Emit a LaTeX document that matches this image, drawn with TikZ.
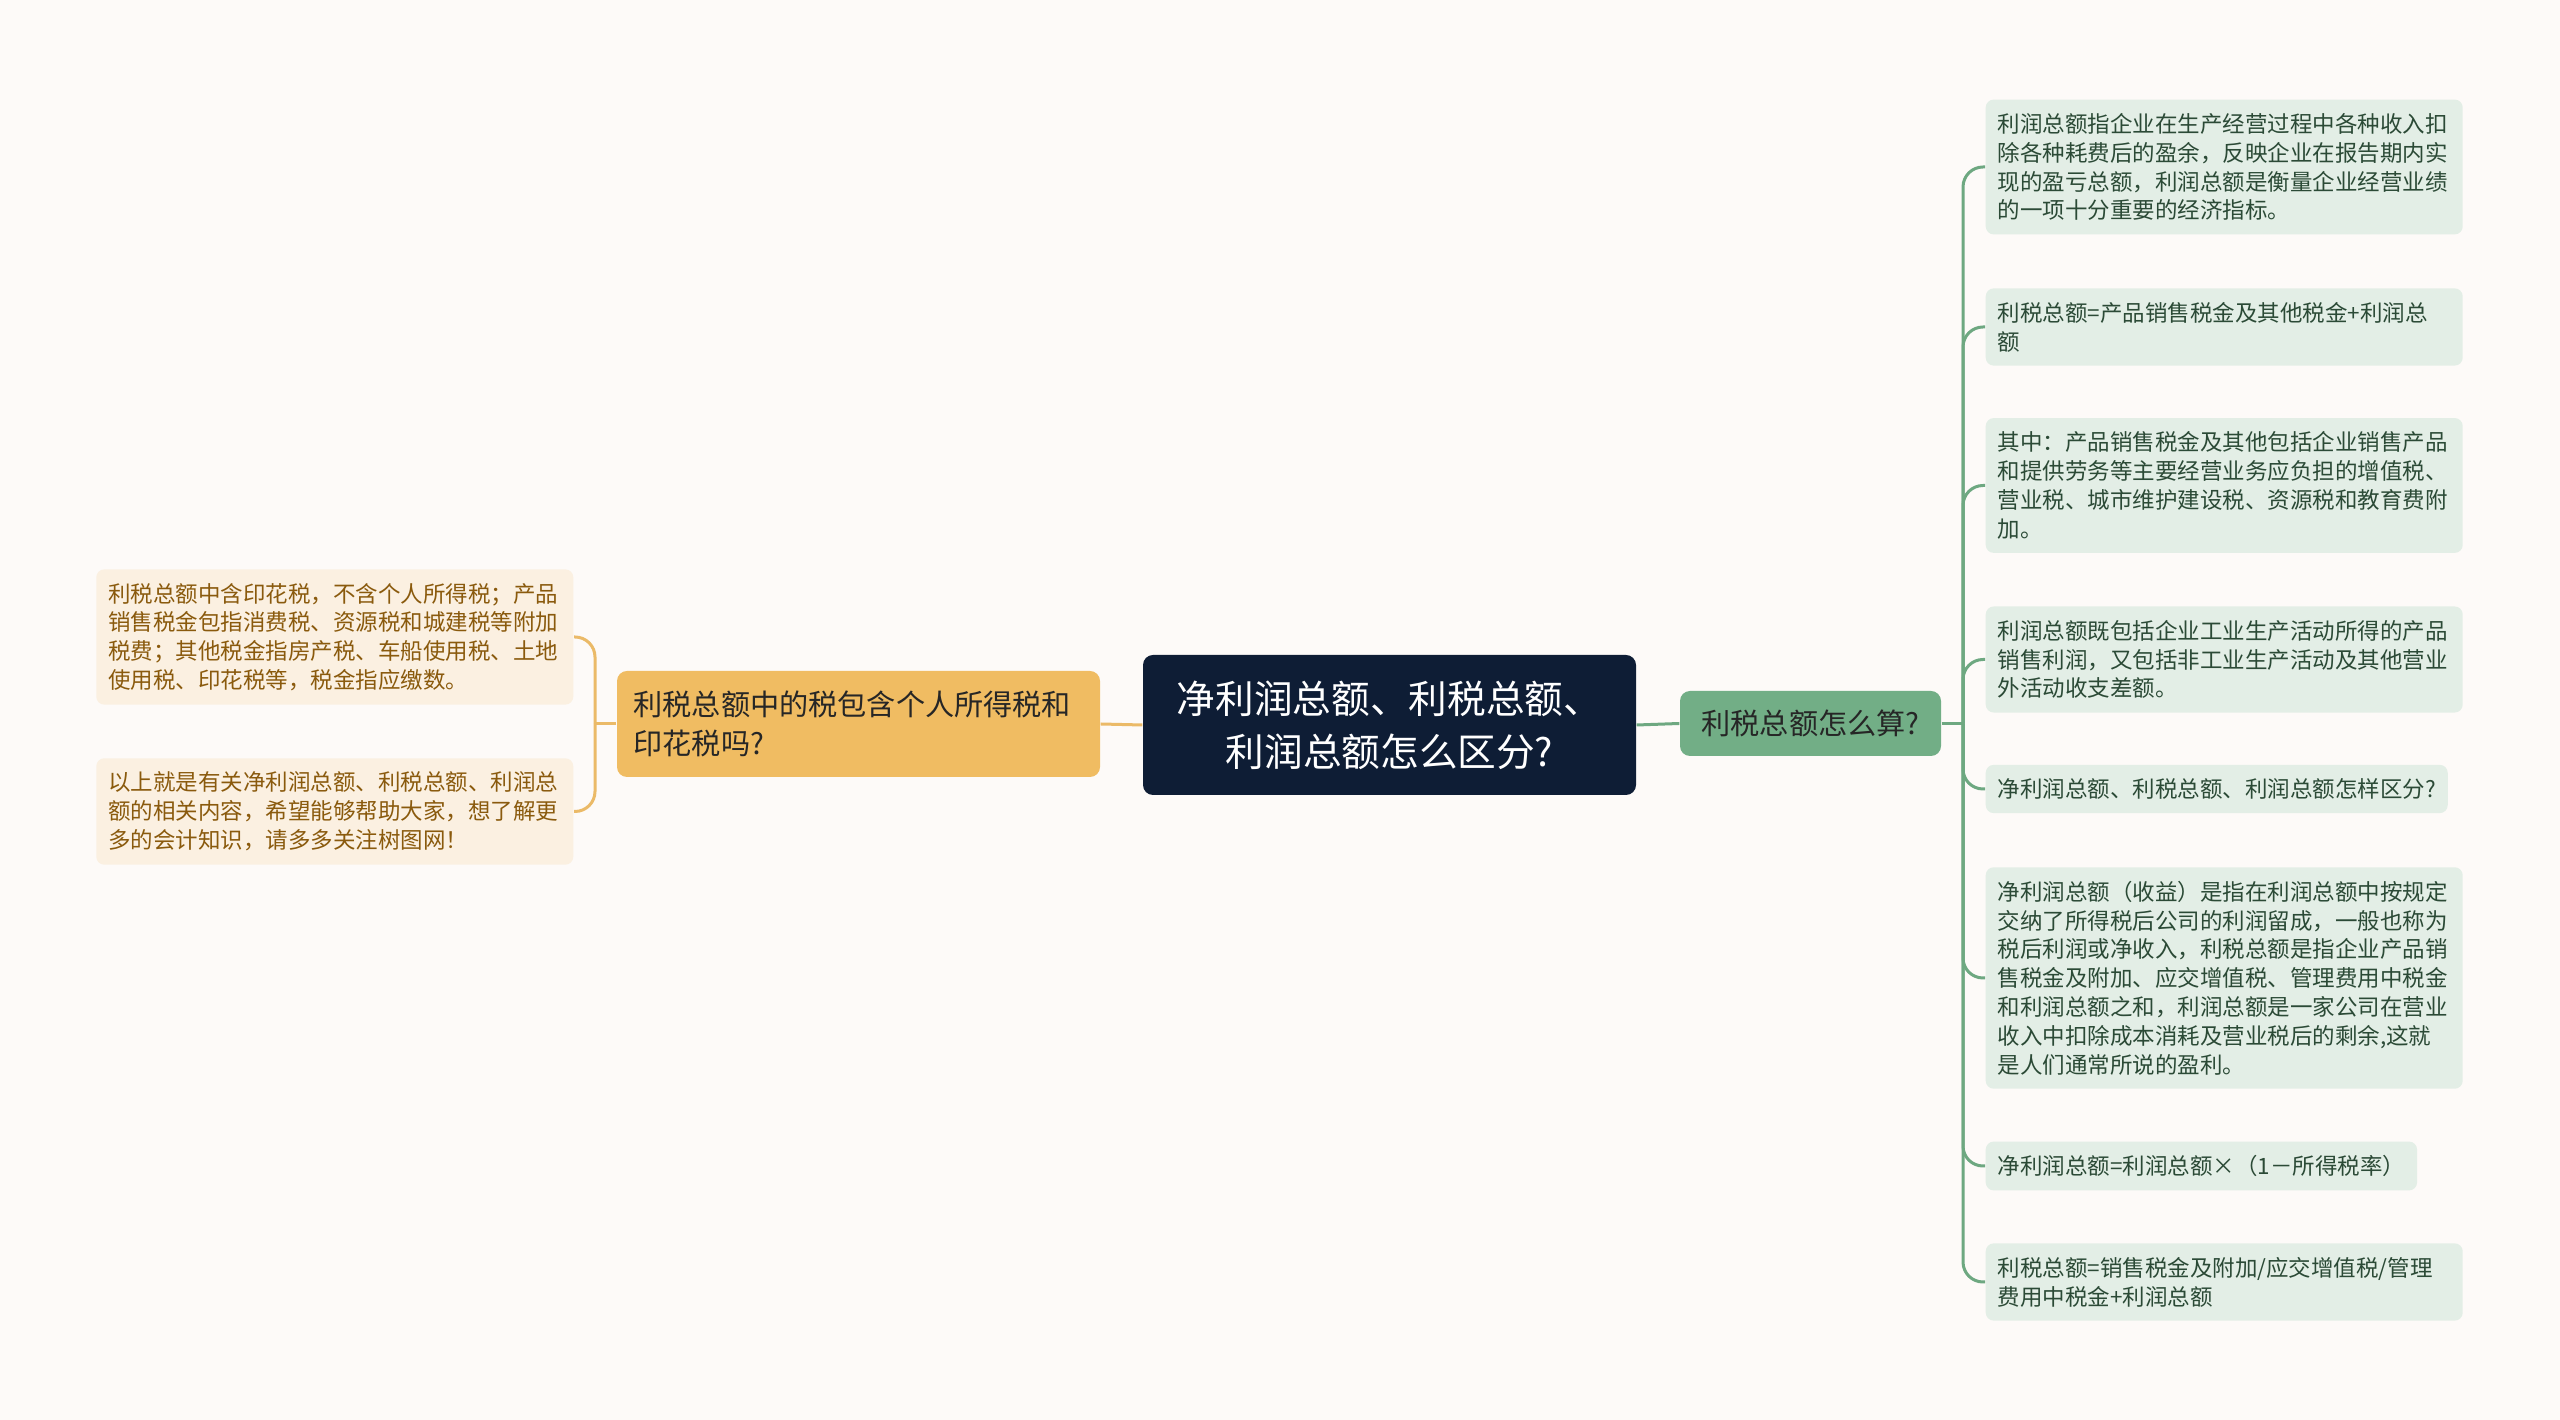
\documentclass[tikz,border=0pt]{standalone}
\usepackage{fontspec}
\newfontfamily\cjk{Noto Sans CJK SC}
\XeTeXlinebreaklocale "zh"
\definecolor{bgcol}{HTML}{FDFAF8}
\definecolor{navy}{HTML}{0E1D35}
\definecolor{gold}{HTML}{F0BC62}
\definecolor{goldline}{HTML}{EBBA68}
\definecolor{sage}{HTML}{72AE86}
\definecolor{sageline}{HTML}{6EA881}
\definecolor{sagefill}{HTML}{E3EEE6}
\definecolor{sagetext}{HTML}{2B4A36}
\definecolor{creamfill}{HTML}{FBF0E1}
\definecolor{creamtext}{HTML}{8A5A0D}
\begin{document}
\begin{tikzpicture}[
  rootbox/.style={fill=navy,text=white,rounded corners=0.1cm,align=center,
    minimum width=4.93cm,minimum height=1.40cm,font=\cjk\fontsize{11}{15}\selectfont},
  leftbox/.style={fill=gold,text=black!85,rounded corners=0.1cm,align=left,text width=4.5cm,
    inner xsep=0.165cm,minimum height=1.06cm,font=\cjk\fontsize{8.3}{11.1}\selectfont},
  rightbox/.style={fill=sage,text=black!85,rounded corners=0.1cm,
    minimum width=2.61cm,minimum height=0.65cm,font=\cjk\fontsize{8.3}{10}\selectfont},
  leaf/.style={rounded corners=0.08cm,align=left,inner xsep=0.12cm,inner ysep=3.9pt,
    font=\cjk\fontsize{6.4}{8.2}\selectfont},
  wide/.style={text width=4.53cm},
  gleaf/.style={leaf,fill=sagefill,text=sagetext,anchor=west},
  oleaf/.style={leaf,fill=creamfill,text=creamtext,anchor=east,wide},
  gline/.style={draw=sageline,line width=0.03cm},
  oline/.style={draw=goldline,line width=0.03cm}]
\fill[bgcol] (0,0) rectangle (25.6,14.2);
\useasboundingbox (0,0) rectangle (25.6,14.2);
% main nodes
\node[rootbox] (root) at (13.895,6.95) {净利润总额、利税总额、\\利润总额怎么区分?};
\node[leftbox] (tax) at (8.585,6.96) {利税总额中的税包含个人所得税和\\印花税吗?};
\node[rightbox] (calc) at (18.105,6.965) {利税总额怎么算?};
% left leaves
\node[oleaf] (t1) at (5.74,7.83) {利税总额中含印花税，不含个人所得税；产品\\销售税金包指消费税、资源税和城建税等附加\\税费；其他税金指房产税、车船使用税、土地\\使用税、印花税等，税金指应缴数。};
\node[oleaf] (t2) at (5.74,6.085) {以上就是有关净利润总额、利税总额、利润总\\额的相关内容，希望能够帮助大家，想了解更\\多的会计知识，请多多关注树图网！};
% right leaves
\node[gleaf,wide] (c1) at (19.85,12.53) {利润总额指企业在生产经营过程中各种收入扣\\除各种耗费后的盈余，反映企业在报告期内实\\现的盈亏总额，利润总额是衡量企业经营业绩\\的一项十分重要的经济指标。};
\node[gleaf,wide] (c2) at (19.85,10.93) {利税总额=产品销售税金及其他税金+利润总\\额};
\node[gleaf,wide] (c3) at (19.85,9.345) {其中：产品销售税金及其他包括企业销售产品\\和提供劳务等主要经营业务应负担的增值税、\\营业税、城市维护建设税、资源税和教育费附\\加。};
\node[gleaf,wide] (c4) at (19.85,7.605) {利润总额既包括企业工业生产活动所得的产品\\销售利润，又包括非工业生产活动及其他营业\\外活动收支差额。};
\node[gleaf] (c5) at (19.85,6.31) {净利润总额、利税总额、利润总额怎样区分?};
\node[gleaf,wide] (c6) at (19.85,4.42) {净利润总额（收益）是指在利润总额中按规定\\交纳了所得税后公司的利润留成，一般也称为\\税后利润或净收入，利税总额是指企业产品销\\售税金及附加、应交增值税、管理费用中税金\\和利润总额之和，利润总额是一家公司在营业\\收入中扣除成本消耗及营业税后的剩余,这就\\是人们通常所说的盈利。};
\node[gleaf] (c7) at (19.85,2.54) {净利润总额=利润总额×（1－所得税率）};
\node[gleaf,wide] (c8) at (19.85,1.38) {利税总额=销售税金及附加/应交增值税/管理\\费用中税金+利润总额};
% connectors
\coordinate (lj) at (5.95,6.96);
\coordinate (rj) at (19.63,6.965);
\draw[oline] (tax.east) -- (root.west);
\draw[oline] (tax.west) -- (lj);
\draw[gline] (root.east) -- (calc.west);
\draw[gline] (calc.east) -- (rj);
\foreach \t in {t1,t2}
  \draw[oline,rounded corners=0.2cm] (lj) |- (\t.east);
\foreach \c in {c1,c2,c3,c4,c5,c6,c7,c8}
  \draw[gline,rounded corners=0.2cm] (rj) |- (\c.west);
\end{tikzpicture}
\end{document}
